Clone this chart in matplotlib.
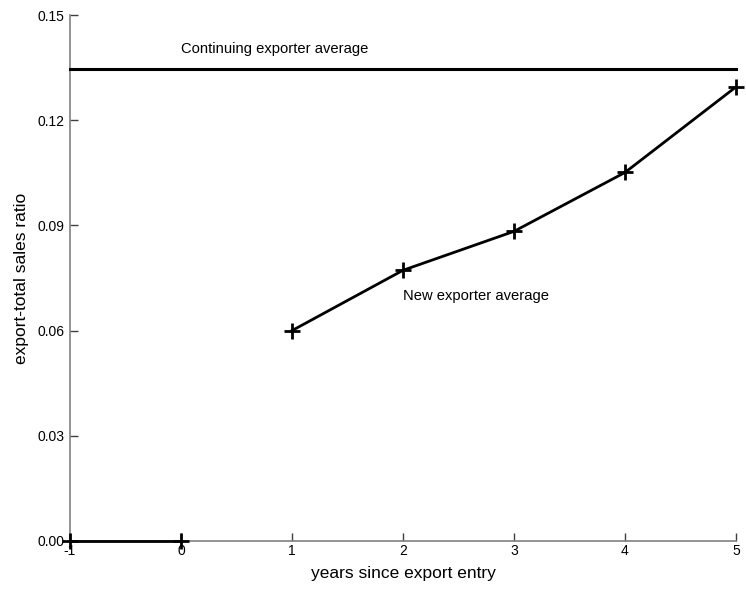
import matplotlib
matplotlib.use("Agg")
import matplotlib.pyplot as plt
from matplotlib.ticker import FormatStrFormatter

plt.rcParams["font.family"] = ["Liberation Sans", "DejaVu Sans"]
plt.rcParams["axes.unicode_minus"] = False

# データ
years = [-1, 0, 1, 2, 3, 4, 5]
pre_entry_years = [-1, 0]
pre_entry_ratio = [0.0, 0.0]
post_entry_years = [1, 2, 3, 4, 5]
post_entry_ratio = [0.060, 0.0772, 0.0883, 0.1051, 0.1295]
continuing_avg = 0.1345
y_ticks = [0.00, 0.03, 0.06, 0.09, 0.12, 0.15]

fig = plt.figure(figsize=(7.46, 5.89), dpi=100)
ax = fig.add_axes([0.0938, 0.0815, 0.8928, 0.893])

line_kw = dict(color="black", linewidth=2.0, marker="+", markersize=12,
               markeredgewidth=2.0, clip_on=False, zorder=3)
ax.plot(pre_entry_years, pre_entry_ratio, **line_kw)
ax.plot(post_entry_years, post_entry_ratio, **line_kw)
ax.plot([years[0], years[-1]], [continuing_avg, continuing_avg],
        color="black", linewidth=2.2, clip_on=False, zorder=3)

ax.text(0.0, 0.1403, "Continuing exporter average", fontsize=10.6,
        va="center", ha="left")
ax.text(2.0, 0.0700, "New exporter average", fontsize=10.6,
        va="center", ha="left")

ax.set_xlim(-1, 5)
ax.set_ylim(0, 0.15)
ax.set_xticks(years)
ax.set_yticks(y_ticks)
ax.yaxis.set_major_formatter(FormatStrFormatter("%.2f"))

for side in ["top", "right"]:
    ax.spines[side].set_visible(False)
for side in ["left", "bottom"]:
    ax.spines[side].set_color("#808080")
    ax.spines[side].set_linewidth(1.2)

ax.tick_params(axis="both", direction="in", length=6, width=1,
               color="#404040", labelsize=10, labelcolor="black")
ax.tick_params(axis="x", pad=2)
ax.tick_params(axis="y", pad=4)

ax.set_xlabel("years since export entry", fontsize=12.5, labelpad=6)
ax.set_ylabel("export-total sales ratio", fontsize=12.5, labelpad=6)

fig.savefig("out.png", dpi=100)
plt.close(fig)
print("Saved: out.png")
